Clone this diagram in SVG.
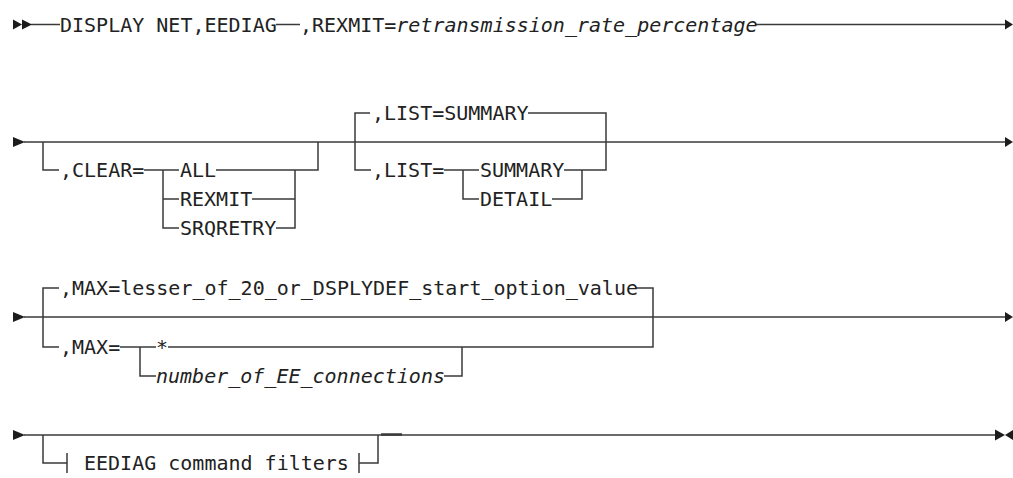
<svg xmlns="http://www.w3.org/2000/svg" width="1013" height="478" viewBox="0 0 1013 478">
<style>
.t{font-family:"DejaVu Sans Mono","Liberation Mono",monospace;font-size:20px;fill:#222}
.i{font-style:italic}
.c path,.c line{stroke:#3a3a3a;stroke-width:1.5;fill:none}
.a{fill:#1c1c1c}
</style>
<rect width="1013" height="478" fill="#fff"/>
<g class="c" id="connectors">
<!-- row 1 -->
<line x1="31" y1="24.5" x2="60" y2="24.5"/>
<line x1="276" y1="24.5" x2="300" y2="24.5"/>
<line x1="756" y1="24.5" x2="1006" y2="24.5"/>
<!-- row 2 -->
<line x1="24" y1="142" x2="1006" y2="142"/>
<path d="M43,142 V170 H59"/>
<path d="M144,170 H179"/>
<path d="M163,170 V228 H179 M163,199 H179"/>
<path d="M216,170 H318 V142"/>
<path d="M252,199 H295 M276,228 H295 V170"/>
<path d="M370,113 H355 V170 H371"/>
<path d="M528,113 H606 V170 H564"/>
<path d="M444,170 H479"/>
<path d="M463,170 V199 H479"/>
<path d="M552,199 H582 V170"/>
<!-- row 3 -->
<line x1="24" y1="317" x2="1006" y2="317"/>
<path d="M59,288 H43 V347 H59"/>
<path d="M636,288 H653 V347 H168"/>
<path d="M120,347 H156"/>
<path d="M140,347 V376 H156"/>
<path d="M444,376 H462 V347"/>
<!-- row 4 -->
<line x1="24" y1="435" x2="996" y2="435"/>
<path d="M43,435 V463 H67"/>
<path d="M67,453 V473"/>
<path d="M359,453 V473"/>
<path d="M359,463 H378 V435"/>
<line x1="381" y1="434.5" x2="402" y2="434.5" style="stroke-width:2.5"/>
</g>
<g id="arrows">
<polygon class="a" points="13,19.5 22,24.5 13,29.5"/>
<polygon class="a" points="22,19.5 32,24.5 22,29.5"/>
<polygon class="a" points="1005,19.5 1013,24.5 1005,29.5"/>
<polygon class="a" points="13,137 25,142 13,147"/>
<polygon class="a" points="1005,137 1013,142 1005,147"/>
<polygon class="a" points="13,312 25,317 13,322"/>
<polygon class="a" points="1005,312 1013,317 1005,322"/>
<polygon class="a" points="13,430 25,435 13,440"/>
<polygon class="a" points="995,429.5 1005,435 995,440.5"/>
<polygon class="a" points="1013,430 1005,435 1013,440"/>
</g>
<g id="n-display"><text class="t" x="60" y="31.5">DISPLAY NET,EEDIAG</text></g>
<g id="n-rexmit"><text class="t" x="300" y="31.5">,REXMIT=<tspan class="i">retransmission_rate_percentage</tspan></text></g>
<g id="n-clear"><text class="t" x="60" y="177">,CLEAR=</text></g>
<g id="n-all"><text class="t" x="180" y="177">ALL</text></g>
<g id="n-clear-rexmit"><text class="t" x="180" y="206">REXMIT</text></g>
<g id="n-srqretry"><text class="t" x="180" y="235">SRQRETRY</text></g>
<g id="n-list-default"><text class="t" x="372" y="120">,LIST=SUMMARY</text></g>
<g id="n-list"><text class="t" x="372" y="177">,LIST=</text></g>
<g id="n-summary"><text class="t" x="480" y="177">SUMMARY</text></g>
<g id="n-detail"><text class="t" x="480" y="206">DETAIL</text></g>
<g id="n-max-default"><text class="t" x="60" y="295">,MAX=lesser_of_20_or_DSPLYDEF_start_option_value</text></g>
<g id="n-max"><text class="t" x="60" y="354">,MAX=</text></g>
<g id="n-star"><text class="t" x="156" y="354">*</text></g>
<g id="n-number"><text class="t i" x="156" y="383">number_of_EE_connections</text></g>
<g id="n-filters"><text class="t" x="84" y="470">EEDIAG command filters</text></g>
</svg>
